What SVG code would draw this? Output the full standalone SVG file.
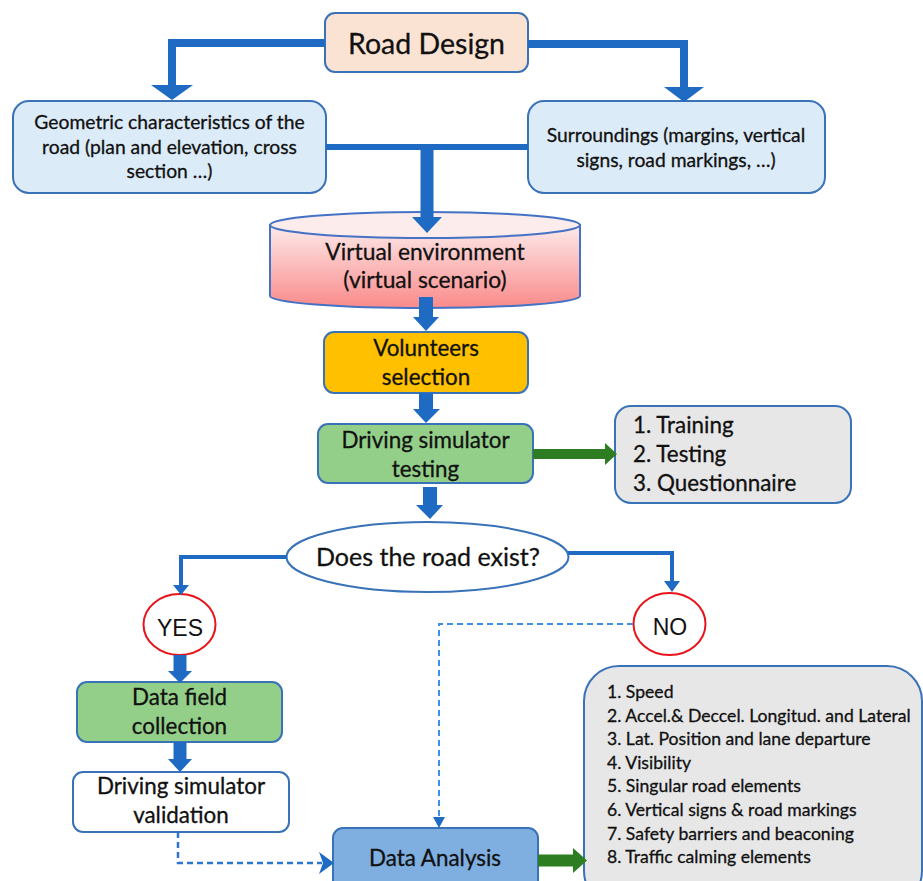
<svg xmlns="http://www.w3.org/2000/svg" width="923" height="881" viewBox="0 0 923 881">
<style>
text{font-family:Lato,"Open Sans","Liberation Sans",sans-serif;fill:#111;stroke:#111;stroke-width:0.3px;}
.c{text-anchor:middle;}
.box{stroke:#3A72B8;stroke-width:2;}
.bar{fill:none;stroke:#1F6BC3;stroke-linejoin:miter;}
.head{fill:#1F6BC3;}
.dash{fill:none;stroke:#3D8FEA;stroke-width:2;stroke-dasharray:6 4;}
.dhead{fill:#1F6BC3;}
.gbar{stroke:#2E7D22;}
.ghead{fill:#2E7D22;}
.circ{fill:#fff;stroke:#E8141B;stroke-width:2;}
.arial{font-family:"Liberation Sans",Arial,sans-serif;stroke-width:0;}
.t19{font-size:19.3px;}
.t22{font-size:22.4px;}
.t17{font-size:17.6px;}
</style>
<defs>
<linearGradient id="cyl" x1="0" y1="0" x2="0" y2="1">
<stop offset="0" stop-color="#FDEAEA"/>
<stop offset="1" stop-color="#FA8A8A"/>
</linearGradient>
</defs>
<rect width="923" height="881" fill="#fff"/>

<g id="road-design">
<rect class="box" x="325" y="13" width="203" height="59" rx="10" fill="#FBE3D3"/>
<text class="c" x="426.5" y="54" font-size="28.5">Road Design</text>
</g>
<g id="geometric">
<rect class="box" x="13" y="101" width="313" height="92" rx="16" fill="#DCEBF8"/>
<text class="c t19" x="169.5" y="129">Geometric characteristics of the</text>
<text class="c t19" x="169.5" y="154">road (plan and elevation, cross</text>
<text class="c t19" x="169.5" y="178">section …)</text>
</g>
<g id="surroundings">
<rect class="box" x="528" y="101" width="297" height="92" rx="16" fill="#DCEBF8"/>
<text class="c t19" x="676" y="142">Surroundings (margins, vertical</text>
<text class="c t19" x="676" y="167">signs, road markings,  …)</text>
</g>
<g id="virtual-environment">
<path d="M270,225 L270,296 A155,12 0 0 0 580,296 L580,225 Z" fill="url(#cyl)" stroke="#4472C4" stroke-width="2"/>
<ellipse cx="425" cy="225" rx="155" ry="13" fill="#FDECEC" stroke="#4472C4" stroke-width="2"/>
<text class="c" x="425" y="260" font-size="22.8">Virtual environment</text>
<text class="c" x="425" y="288" font-size="22.8">(virtual scenario)</text>
</g>
<g id="volunteers">
<rect class="box" x="324" y="332" width="204" height="61" rx="10" fill="#FFC000"/>
<text class="c t22" x="426" y="356">Volunteers</text>
<text class="c t22" x="426" y="385">selection</text>
</g>
<g id="driving-testing">
<rect class="box" x="318" y="424" width="215" height="59" rx="10" fill="#94CF89"/>
<text class="c t22" x="425.5" y="448">Driving simulator</text>
<text class="c t22" x="425.5" y="477">testing</text>
</g>
<g id="steps">
<rect class="box" x="615" y="406" width="236" height="97" rx="16" fill="#E7E7E7"/>
<text class="t22" x="633" y="433">1. Training</text>
<text class="t22" x="633" y="462">2. Testing</text>
<text class="t22" x="633" y="491">3. Questionnaire</text>
</g>
<g id="decision">
<ellipse cx="427.5" cy="557" rx="141" ry="35" fill="#fff" stroke="#3A72B8" stroke-width="2"/>
<text class="c" x="428" y="566" font-size="25">Does the road exist?</text>
</g>
<g id="yes">
<ellipse class="circ" cx="179.5" cy="624.5" rx="36" ry="30.5"/>
<text class="c arial" x="180" y="636" font-size="23">YES</text>
</g>
<g id="no">
<ellipse class="circ" cx="669.5" cy="624" rx="36" ry="31"/>
<text class="c arial" x="670" y="635" font-size="23">NO</text>
</g>
<g id="data-field">
<rect class="box" x="77" y="682" width="205" height="60" rx="10" fill="#94CF89"/>
<text class="c t22" x="179.5" y="705">Data field</text>
<text class="c t22" x="179.5" y="734">collection</text>
</g>
<g id="validation">
<rect class="box" x="73" y="772" width="216" height="60" rx="10" fill="#fff"/>
<text class="c t22" x="181" y="794">Driving simulator</text>
<text class="c t22" x="181" y="823">validation</text>
</g>
<g id="data-analysis">
<rect class="box" x="333" y="828" width="205" height="70" rx="10" fill="#7FAEE0"/>
<text class="c t22" x="435" y="866">Data Analysis</text>
</g>
<g id="variables">
<rect class="box" x="584" y="666" width="338" height="240" rx="35" fill="#E7E7E7"/>
<text class="t17" x="607" y="698">1. Speed</text>
<text class="t17" x="607" y="721.6">2. Accel.&amp; Deccel. Longitud. and Lateral</text>
<text class="t17" x="607" y="745.2">3. Lat. Position and lane departure</text>
<text class="t17" x="607" y="768.8">4. Visibility</text>
<text class="t17" x="607" y="792.4">5. Singular road elements</text>
<text class="t17" x="607" y="816">6. Vertical signs &amp; road markings</text>
<text class="t17" x="607" y="839.6">7. Safety barriers and beaconing</text>
<text class="t17" x="607" y="863.2">8. Traffic calming elements</text>
</g>

<g id="connectors">
<polyline class="bar" stroke-width="8" points="325,43 172,43 172,86"/>
<polygon class="head" points="151,85 193,85 172,100"/>
<polyline class="bar" stroke-width="8" points="528,44 684,44 684,88"/>
<polygon class="head" points="664,87 704,87 684,102"/>
<line class="bar" stroke-width="6" x1="326" y1="147" x2="528" y2="147"/>
<line class="bar" stroke-width="13" x1="427" y1="144" x2="427" y2="218"/>
<polygon class="head" points="412,217 442,217 427,233"/>
<line class="bar" stroke-width="14" x1="426" y1="297" x2="426" y2="318"/>
<polygon class="head" points="413,317 439,317 426,331"/>
<line class="bar" stroke-width="14" x1="426" y1="393" x2="426" y2="410"/>
<polygon class="head" points="413,409 440,409 426,423"/>
<line class="gbar" stroke-width="10" x1="533" y1="454" x2="606" y2="454"/>
<polygon class="ghead" points="605,443 617,454 605,465"/>
<line class="bar" stroke-width="14" x1="430" y1="487" x2="430" y2="506"/>
<polygon class="head" points="416,505 443,505 430,519"/>
<polyline class="bar" stroke-width="4" points="287,557 181,557 181,586"/>
<polygon class="head" points="173,585 189,585 181,595"/>
<polyline class="bar" stroke-width="4" points="568,553 672,553 672,582"/>
<polygon class="head" points="664,581 680,581 672,592"/>
<polyline class="dash" points="633,624 439,624 439,818"/>
<polygon class="dhead" points="433,817 445,817 439,828"/>
<line class="bar" stroke-width="13" x1="180" y1="655" x2="180" y2="672"/>
<polygon class="head" points="168,671 192,671 180,683"/>
<line class="bar" stroke-width="13" x1="180" y1="742" x2="180" y2="760"/>
<polygon class="head" points="168,759 192,759 180,772"/>
<polyline class="dash" style="stroke:#2B76D0;stroke-width:2.5" points="178,832 178,863 322,863"/>
<polygon class="dhead" points="319,852 334,863 319,874 323,863"/>
<line class="gbar" stroke-width="12" x1="538" y1="860.5" x2="574" y2="860.5"/>
<polygon class="ghead" points="573,848 587,860.5 573,873"/>
</g>
</svg>
